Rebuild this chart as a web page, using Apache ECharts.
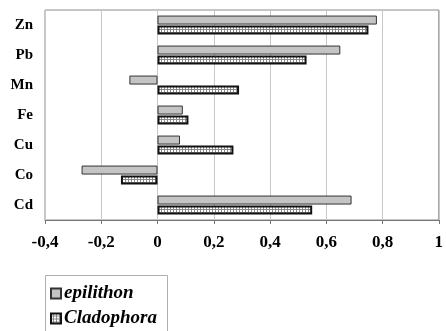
<!DOCTYPE html>
<html>
<head>
<meta charset="utf-8">
<script src="https://cdn.jsdelivr.net/npm/echarts@6/dist/echarts.min.js"></script>
<style>
  html, body { margin: 0; padding: 0; background: #fff; }
  #main { width: 446px; height: 331px; }
</style>
</head>
<body>
<div id="main"></div>
<script>
// bottom to top
var metals = ['Cd', 'Co', 'Cu', 'Fe', 'Mn', 'Pb', 'Zn']
var epilithon = [0.69, -0.27, 0.08, 0.09, -0.10, 0.65, 0.78]
var cladophora = [0.55, -0.13, 0.27, 0.11, 0.29, 0.53, 0.75]

// small grid fill for the Cladophora bars
var pat = document.createElement('canvas')
pat.width = 3
pat.height = 3
var pc = pat.getContext('2d')
pc.fillStyle = '#ffffff'
pc.fillRect(0, 0, 3, 3)
pc.fillStyle = '#8a8a8a'
pc.fillRect(2, 0, 1, 3)
pc.fillRect(0, 2, 3, 1)

var font = 'Liberation Serif'
var chart = echarts.init(document.getElementById('main'))

var legendText = {
  fontFamily: font, fontSize: 19, fontWeight: 'bold',
  fontStyle: 'italic', color: '#000', padding: [0, 0, 0, -2]
}
function legendAt(name, top) {
  return {
    left: 50, top: top,
    data: [name],
    icon: 'rect',
    itemWidth: 10, itemHeight: 10,
    padding: 0,
    textStyle: legendText
  }
}

var option = {
  animation: false,
  backgroundColor: '#fff',
  grid: {
    left: 45, right: 5, top: 10, bottom: 111,
    show: true, borderColor: '#8c8c8c', borderWidth: 1
  },
  graphic: [{
    type: 'rect',
    shape: { x: 45.5, y: 275.5, width: 122, height: 70 },
    style: { fill: 'none', stroke: '#b0b0b0', lineWidth: 1 },
    silent: true
  }],
  legend: [legendAt('epilithon', 284), legendAt('Cladophora', 309)],
  xAxis: {
    type: 'value',
    min: -0.4, max: 1, interval: 0.2,
    axisLine: { show: true, lineStyle: { color: '#777' } },
    axisTick: { show: true, length: 4, lineStyle: { color: '#777' } },
    splitLine: { show: true, lineStyle: { color: '#c8c8c8' } },
    axisLabel: {
      margin: 14,
      fontFamily: font, fontSize: 17, fontWeight: 'bold', color: '#000',
      formatter: function (v) {
        return String(Math.round(v * 10) / 10).replace('.', ',')
      }
    }
  },
  yAxis: {
    type: 'category',
    data: metals,
    axisLine: { show: false },
    axisTick: { show: false },
    axisLabel: {
      margin: 12,
      padding: [4, 0, 0, 0],
      fontFamily: font, fontSize: 15, fontWeight: 'bold', color: '#000'
    }
  },
  series: [
    {
      name: 'epilithon',
      type: 'bar',
      data: epilithon,
      barWidth: 9,
      barGap: '0%',
      itemStyle: {
        color: '#c4c4c4',
        borderColor: '#333', borderWidth: 1
      }
    },
    {
      name: 'Cladophora',
      type: 'bar',
      data: cladophora,
      barWidth: 9,
      barGap: '10%',
      itemStyle: {
        color: { image: pat, repeat: 'repeat' },
        borderColor: '#111', borderWidth: 2
      }
    }
  ]
}

chart.setOption(option)
</script>
</body>
</html>
